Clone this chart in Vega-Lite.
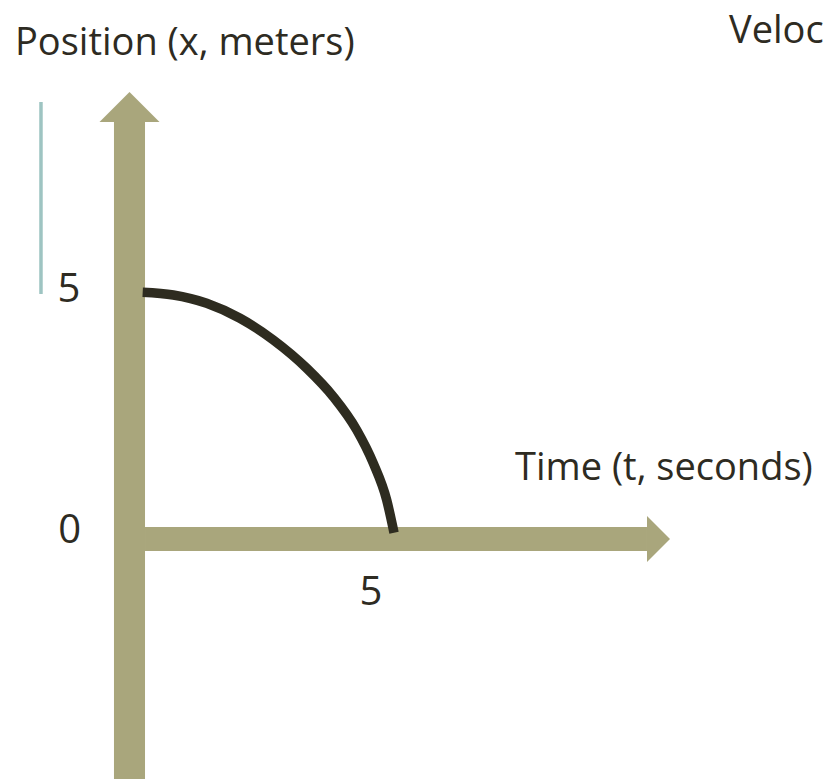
{
  "$schema": "https://vega.github.io/schema/vega-lite/v6.json",
  "width": 831,
  "height": 779,
  "autosize": "none",
  "padding": 0,
  "background": "white",
  "config": {"view": {"stroke": null}},
  "encoding": {
    "x": {"field": "x", "type": "quantitative", "scale": {"domain": [-2.670, 14.464], "nice": false, "zero": false}, "axis": null},
    "y": {"field": "y", "type": "quantitative", "scale": {"domain": [-4.948, 11.113], "nice": false, "zero": false}, "axis": null}
  },
  "layer": [
    {
      "data": {"values": [
        {"x": -1.825, "y": 9.010, "y2": 5.052}
      ]},
      "mark": {"type": "rule", "color": "#9EC4C2", "strokeWidth": 3.5},
      "encoding": {"y2": {"field": "y2"}}
    },
    {
      "data": {"values": [
        {"x": -0.32, "x2": 0.32, "y": 8.598, "y2": -4.948},
        {"x": 0.32, "x2": 10.67, "y": 0.247, "y2": -0.247}
      ]},
      "mark": {"type": "rect", "color": "#A9A67C"},
      "encoding": {"x2": {"field": "x2"}, "y2": {"field": "y2"}}
    },
    {
      "data": {"values": [{"x": 0, "y": 8.598}]},
      "mark": {"type": "point", "shape": "M-1,0L0,-1L1,0Z", "size": 3600, "filled": true, "opacity": 1, "color": "#A9A67C", "strokeWidth": 0}
    },
    {
      "data": {"values": [{"x": 10.67, "y": 0}]},
      "mark": {"type": "point", "shape": "M0,-1L1,0L0,1Z", "size": 2116, "filled": true, "opacity": 1, "color": "#A9A67C", "strokeWidth": 0}
    },
    {
      "data": {"values": [
        {"i": 0, "x": 0.272, "y": 5.087},
        {"i": 1, "x": 0.903, "y": 5.031},
        {"i": 2, "x": 1.592, "y": 4.860},
        {"i": 3, "x": 2.278, "y": 4.551},
        {"i": 4, "x": 2.965, "y": 4.103},
        {"i": 5, "x": 3.654, "y": 3.520},
        {"i": 6, "x": 4.202, "y": 2.934},
        {"i": 7, "x": 4.685, "y": 2.247},
        {"i": 8, "x": 5.027, "y": 1.561},
        {"i": 9, "x": 5.303, "y": 0.804},
        {"i": 10, "x": 5.454, "y": 0.130}
      ]},
      "mark": {"type": "line", "color": "#2E2C20", "strokeWidth": 9.5, "interpolate": "monotone", "strokeCap": "butt"},
      "encoding": {"order": {"field": "i", "type": "quantitative"}}
    },
    {
      "data": {"values": [
        {"x": -2.361, "y": 9.979, "label": "Position (x, meters)"},
        {"x": 7.948, "y": 1.216, "label": "Time (t, seconds)"},
        {"x": 12.361, "y": 10.227, "label": "Veloc"}
      ]},
      "mark": {"type": "text", "align": "left", "baseline": "alphabetic", "font": "Open Sans", "fontSize": 38, "color": "#2E2B22"},
      "encoding": {"text": {"field": "label"}}
    },
    {
      "data": {"values": [
        {"x": -1.247, "y": 4.887, "label": "5"},
        {"x": -1.233, "y": -0.082, "label": "0"},
        {"x": 4.979, "y": -1.361, "label": "5"}
      ]},
      "mark": {"type": "text", "align": "center", "baseline": "alphabetic", "font": "Open Sans", "fontSize": 40, "color": "#2E2B22"},
      "encoding": {"text": {"field": "label"}}
    }
  ]
}
